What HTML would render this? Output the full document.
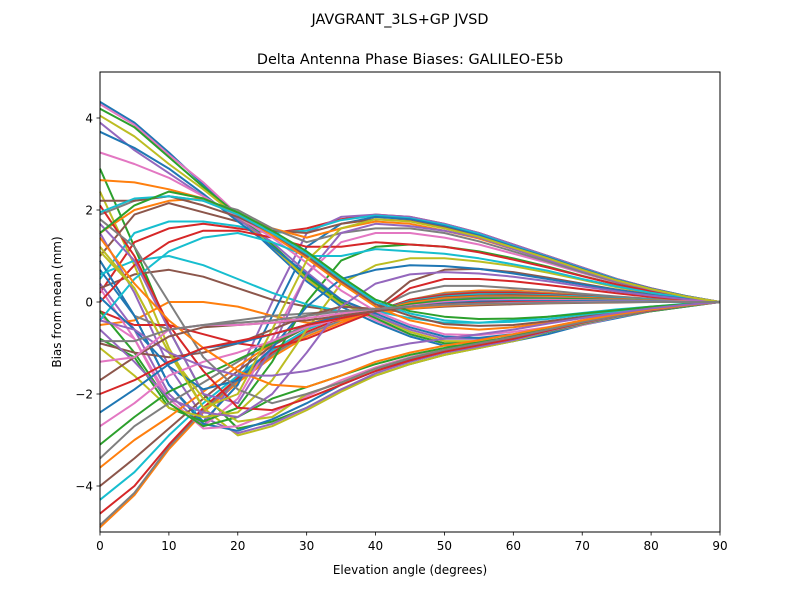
<!DOCTYPE html>
<html><head><meta charset="utf-8"><style>
body{margin:0;background:#fff;}
svg text{font-family:"DejaVu Sans","Liberation Sans",sans-serif;fill:#000;}
</style></head><body>
<svg id="chart" width="800" height="600" xmlns="http://www.w3.org/2000/svg">
<rect width="800" height="600" fill="#fff"/>
<text x="400" y="24" font-size="14.4" text-anchor="middle">JAVGRANT_3LS+GP JVSD</text>
<text x="410" y="64" font-size="14.4" text-anchor="middle">Delta Antenna Phase Biases: GALILEO-E5b</text>
<g id="lines"></g>
<g id="axes"></g>
<text x="410" y="574" font-size="12" text-anchor="middle">Elevation angle (degrees)</text>
<text x="0" y="0" font-size="12" text-anchor="middle" transform="translate(61,302) rotate(-90)">Bias from mean (mm)</text>
</svg>
<script>
const elevations=[0,5,10,15,20,25,30,35,40,45,50,55,60,65,70,75,80,85,90];
const xTicks=[0,10,20,30,40,50,60,70,80,90];
const yTicks=[-4,-2,0,2,4];
const colors=["#1f77b4","#ff7f0e","#2ca02c","#d62728","#9467bd","#8c564b","#e377c2","#7f7f7f","#bcbd22","#17becf"];
const highStart=[
[4.35,3.9,3.25,2.55,1.85,1.15,0.45,-0.1,-0.45,-0.75,-0.95,-0.95,-0.85,-0.7,-0.5,-0.35,-0.2,-0.1,0],
[4.3,3.85,3.2,2.6,1.9,1.2,0.5,0,-0.4,-0.7,-0.9,-0.9,-0.8,-0.65,-0.5,-0.33,-0.2,-0.1,0],
[4.2,3.8,3.15,2.5,1.9,1.25,0.55,0,-0.35,-0.7,-0.9,-0.88,-0.8,-0.65,-0.48,-0.32,-0.2,-0.1,0],
[4.05,3.6,3.0,2.45,1.85,1.2,0.5,-0.05,-0.3,-0.65,-0.85,-0.85,-0.78,-0.62,-0.46,-0.3,-0.18,-0.08,0],
[3.9,3.3,2.8,2.3,1.8,1.3,0.65,0.05,-0.3,-0.6,-0.8,-0.8,-0.72,-0.6,-0.45,-0.3,-0.18,-0.08,0],
[3.7,3.35,2.9,2.35,1.75,1.2,0.6,0.05,-0.25,-0.55,-0.75,-0.78,-0.7,-0.58,-0.42,-0.28,-0.16,-0.08,0],
[3.25,3.0,2.7,2.3,1.85,1.4,0.85,0.25,-0.2,-0.5,-0.7,-0.72,-0.65,-0.55,-0.4,-0.27,-0.15,-0.07,0],
[2.65,2.6,2.45,2.25,1.9,1.45,0.95,0.4,-0.1,-0.4,-0.55,-0.6,-0.55,-0.45,-0.35,-0.24,-0.14,-0.06,0],
[2.2,2.2,2.3,2.1,1.85,1.5,1.0,0.45,-0.05,-0.3,-0.48,-0.52,-0.5,-0.42,-0.32,-0.22,-0.13,-0.06,0],
[1.95,2.25,2.3,2.2,1.9,1.5,1.05,0.5,0,-0.25,-0.4,-0.45,-0.43,-0.37,-0.28,-0.2,-0.12,-0.05,0],
[1.5,2.1,2.4,2.25,1.95,1.55,1.1,0.55,0.05,-0.2,-0.32,-0.37,-0.36,-0.32,-0.25,-0.18,-0.1,-0.05,0]
];
const dipNeg=[
[2.9,1.2,-0.6,-2.0,-2.75,-2.6,-2.3,-1.9,-1.6,-1.35,-1.15,-1.0,-0.85,-0.65,-0.48,-0.32,-0.2,-0.09,0],
[2.4,0.8,-1.0,-2.3,-2.9,-2.7,-2.35,-1.95,-1.6,-1.35,-1.15,-1.0,-0.85,-0.65,-0.48,-0.32,-0.2,-0.09,0],
[1.5,0.2,-1.4,-2.5,-2.85,-2.65,-2.3,-1.9,-1.55,-1.3,-1.1,-0.97,-0.83,-0.64,-0.47,-0.31,-0.19,-0.08,0],
[0.9,-0.3,-1.8,-2.65,-2.8,-2.55,-2.2,-1.8,-1.5,-1.25,-1.07,-0.94,-0.8,-0.62,-0.45,-0.3,-0.18,-0.08,0],
[0.3,-0.8,-2.1,-2.75,-2.7,-2.4,-2.05,-1.7,-1.42,-1.2,-1.03,-0.9,-0.77,-0.6,-0.44,-0.3,-0.18,-0.08,0],
[-0.2,-1.1,-2.2,-2.7,-2.5,-2.1,-1.85,-1.6,-1.35,-1.15,-1.0,-0.88,-0.75,-0.58,-0.43,-0.29,-0.17,-0.08,0],
[1.2,0.3,-1.1,-2.1,-2.6,-2.5,-2.0,-1.75,-1.45,-1.22,-1.04,-0.91,-0.78,-0.6,-0.44,-0.3,-0.17,-0.08,0],
[2.1,1.0,-0.5,-1.5,-2.3,-2.35,-2.1,-1.8,-1.5,-1.27,-1.08,-0.94,-0.8,-0.62,-0.45,-0.3,-0.18,-0.08,0],
[1.8,1.2,0.0,-1.2,-1.9,-2.2,-2.0,-1.75,-1.45,-1.22,-1.04,-0.9,-0.76,-0.6,-0.44,-0.3,-0.17,-0.08,0],
[1.4,0.4,-0.4,-1.0,-1.5,-1.8,-1.85,-1.6,-1.3,-1.1,-0.95,-0.83,-0.7,-0.55,-0.4,-0.27,-0.16,-0.07,0],
[-0.4,-0.6,-1.1,-1.4,-1.6,-1.6,-1.5,-1.3,-1.05,-0.9,-0.8,-0.7,-0.6,-0.47,-0.35,-0.24,-0.14,-0.06,0]
];
const lowStart=[
[-4.9,-4.2,-3.2,-2.4,-1.75,-1.2,-0.75,-0.45,-0.2,0.05,0.2,0.25,0.25,0.2,0.15,0.1,0.06,0.03,0],
[-4.85,-4.15,-3.15,-2.35,-1.7,-1.15,-0.7,-0.4,-0.2,0.05,0.18,0.22,0.22,0.18,0.14,0.1,0.06,0.03,0],
[-4.6,-4.0,-3.1,-2.3,-1.65,-1.1,-0.65,-0.35,-0.2,0.05,0.15,0.2,0.2,0.17,0.13,0.09,0.05,0.02,0],
[-4.3,-3.7,-2.9,-2.2,-1.6,-1.05,-0.6,-0.3,-0.2,0.02,0.12,0.17,0.17,0.15,0.12,0.08,0.05,0.02,0],
[-4.0,-3.4,-2.75,-2.1,-1.5,-0.95,-0.55,-0.3,-0.2,0,0.1,0.14,0.15,0.13,0.1,0.07,0.04,0.02,0],
[-3.6,-3.0,-2.5,-1.95,-1.4,-0.9,-0.5,-0.25,-0.2,-0.02,0.08,0.12,0.12,0.11,0.09,0.06,0.04,0.02,0],
[-3.4,-2.7,-2.2,-1.75,-1.3,-0.85,-0.5,-0.3,-0.2,-0.05,0.05,0.1,0.1,0.09,0.07,0.05,0.03,0.01,0],
[-3.1,-2.5,-1.95,-1.6,-1.25,-0.9,-0.55,-0.3,-0.2,-0.05,0.03,0.07,0.08,0.07,0.06,0.04,0.02,0.01,0],
[-2.7,-2.2,-1.6,-1.3,-1.1,-0.85,-0.55,-0.35,-0.2,-0.08,0,0.04,0.05,0.05,0.04,0.03,0.02,0.01,0],
[-2.4,-1.9,-1.35,-1.0,-0.9,-0.7,-0.5,-0.3,-0.2,-0.1,-0.03,0.01,0.02,0.02,0.02,0.01,0.01,0,0],
[-2.0,-1.7,-1.3,-1.0,-0.85,-0.7,-0.5,-0.35,-0.2,-0.1,-0.05,-0.02,0,0,0,0,0,0,0],
[-1.7,-1.2,-0.75,-0.55,-0.5,-0.45,-0.4,-0.3,-0.2,-0.1,-0.05,-0.03,-0.02,-0.01,0,0,0,0,0],
[-1.3,-1.2,-0.6,-0.5,-0.5,-0.45,-0.35,-0.25,-0.15,-0.1,-0.06,-0.04,-0.02,-0.01,0,0,0,0,0],
[-0.85,-0.85,-0.6,-0.5,-0.45,-0.4,-0.3,-0.2,-0.15,-0.1,-0.06,-0.04,-0.03,-0.02,-0.01,0,0,0,0]
];
const bumpPos=[
[0.2,1.3,1.6,1.7,1.6,1.5,1.6,1.8,1.9,1.85,1.7,1.5,1.25,1.0,0.75,0.5,0.3,0.13,0],
[0.5,1.5,1.75,1.75,1.65,1.5,1.55,1.78,1.88,1.82,1.68,1.48,1.22,0.98,0.73,0.49,0.29,0.13,0],
[1.0,1.9,2.15,1.95,1.75,1.55,1.5,1.7,1.8,1.76,1.62,1.42,1.18,0.95,0.7,0.47,0.28,0.12,0],
[1.5,2.0,2.2,2.25,1.9,1.6,1.4,1.6,1.75,1.7,1.55,1.38,1.15,0.92,0.68,0.45,0.27,0.12,0],
[1.9,2.2,2.3,2.2,2.0,1.6,1.3,1.5,1.6,1.6,1.5,1.32,1.1,0.88,0.65,0.43,0.26,0.11,0],
[0.0,0.8,1.3,1.55,1.55,1.4,1.2,1.2,1.3,1.25,1.2,1.08,0.92,0.75,0.56,0.38,0.23,0.1,0],
[-0.4,0.5,1.1,1.4,1.5,1.3,1.0,1.0,1.15,1.1,1.05,0.95,0.82,0.68,0.5,0.34,0.2,0.09,0]
];
const dipRise=[
[0.4,-0.6,-2.0,-2.7,-1.6,0.0,1.5,1.85,1.9,1.85,1.7,1.5,1.25,1.0,0.75,0.5,0.3,0.13,0],
[0.7,-0.3,-1.8,-2.6,-1.8,-0.3,1.2,1.7,1.85,1.8,1.65,1.45,1.2,0.97,0.72,0.48,0.29,0.13,0],
[-0.3,-0.8,-2.2,-2.7,-2.1,-0.8,0.6,1.3,1.5,1.5,1.4,1.25,1.05,0.85,0.63,0.42,0.25,0.11,0],
[-0.8,-1.2,-2.3,-2.6,-2.3,-1.3,0.0,0.9,1.2,1.25,1.2,1.1,0.95,0.77,0.57,0.38,0.23,0.1,0],
[-1.0,-1.6,-2.3,-2.5,-2.4,-1.7,-0.6,0.4,0.8,0.95,0.95,0.88,0.78,0.64,0.48,0.32,0.19,0.08,0],
[1.7,0.9,-0.6,-2.0,-2.2,-1.0,0.6,1.5,1.7,1.65,1.55,1.4,1.15,0.92,0.68,0.45,0.27,0.12,0],
[0.1,-0.6,-1.4,-1.9,-1.7,-1.0,-0.1,0.5,0.7,0.8,0.78,0.72,0.62,0.5,0.38,0.26,0.15,0.07,0],
[-0.6,-1.3,-2.1,-2.4,-2.5,-2.0,-1.1,-0.1,0.4,0.6,0.65,0.62,0.55,0.45,0.34,0.23,0.14,0.06,0],
[1.1,0.3,-1.1,-2.3,-2.0,-0.6,0.9,1.6,1.8,1.75,1.6,1.42,1.18,0.95,0.7,0.47,0.28,0.12,0]
];
const mild=[
[0.3,0.6,0.7,0.55,0.3,0.05,-0.1,-0.2,-0.2,-0.15,-0.1,-0.07,-0.05,-0.03,-0.02,-0.01,0,0,0],
[-0.5,-0.4,0.0,0.0,-0.1,-0.3,-0.45,-0.4,-0.25,-0.15,-0.08,-0.05,-0.03,-0.02,-0.01,0,0,0,0],
[0.9,-0.3,-0.6,-0.5,-0.4,-0.3,-0.25,-0.2,-0.15,0.2,0.35,0.35,0.3,0.25,0.18,0.12,0.07,0.03,0],
[-0.2,-0.5,-0.5,-0.7,-0.9,-1.0,-0.8,-0.5,-0.2,0.3,0.5,0.5,0.45,0.37,0.28,0.19,0.11,0.05,0],
[0.6,0.9,1.0,0.8,0.5,0.2,-0.05,-0.2,-0.2,-0.35,-0.45,-0.45,-0.4,-0.32,-0.24,-0.16,-0.1,-0.04,0],
[-0.9,-1.1,-1.2,-1.1,-0.9,-0.6,-0.3,-0.1,-0.15,0.45,0.7,0.72,0.65,0.53,0.4,0.27,0.16,0.07,0]
];
const allSeries=[];
const groups=[highStart,lowStart,dipNeg,bumpPos,dipRise,mild];
let maxLen=Math.max(...groups.map(g=>g.length));
for(let i=0;i<maxLen;i++){for(const g of groups){if(i<g.length)allSeries.push(g[i]);}}
const X0=100,X1=720,Y0=72,Y1=532;
function xs(v){return X0+(v-0)/(90-0)*(X1-X0);}
function ys(v){return Y1-(v-(-5))/(10)*(Y1-Y0);}
const NS="http://www.w3.org/2000/svg";
const lg=document.getElementById('lines');
allSeries.forEach((s,i)=>{
  const p=document.createElementNS(NS,'polyline');
  p.setAttribute('points',s.map((v,j)=>xs(elevations[j]).toFixed(1)+','+ys(v).toFixed(1)).join(' '));
  p.setAttribute('fill','none');
  p.setAttribute('stroke',colors[i%10]);
  p.setAttribute('stroke-width','2');
  p.setAttribute('stroke-linejoin','round');
  
  
  lg.appendChild(p);
});
const ax=document.getElementById('axes');
const fr=document.createElementNS(NS,'rect');
fr.setAttribute('x',X0);fr.setAttribute('y',Y0);fr.setAttribute('width',X1-X0);fr.setAttribute('height',Y1-Y0);
fr.setAttribute('fill','none');fr.setAttribute('stroke','#000');fr.setAttribute('stroke-width','1');


ax.appendChild(fr);
xTicks.forEach(t=>{
  const l=document.createElementNS(NS,'line');
  l.setAttribute('x1',xs(t));l.setAttribute('x2',xs(t));l.setAttribute('y1',Y1);l.setAttribute('y2',Y1+3.5);
  l.setAttribute('stroke','#000');l.setAttribute('stroke-width','0.8');
  
  
  ax.appendChild(l);
  const tx=document.createElementNS(NS,'text');
  tx.setAttribute('x',xs(t));tx.setAttribute('y',Y1+18);tx.setAttribute('font-size','12');tx.setAttribute('text-anchor','middle');
  tx.textContent=t;
  
  
  ax.appendChild(tx);
});
yTicks.forEach(t=>{
  const l=document.createElementNS(NS,'line');
  l.setAttribute('x1',X0-3.5);l.setAttribute('x2',X0);l.setAttribute('y1',ys(t));l.setAttribute('y2',ys(t));
  l.setAttribute('stroke','#000');l.setAttribute('stroke-width','0.8');
  
  
  ax.appendChild(l);
  const tx=document.createElementNS(NS,'text');
  tx.setAttribute('x',X0-7);tx.setAttribute('y',ys(t)+4.5);tx.setAttribute('font-size','12');tx.setAttribute('text-anchor','end');
  tx.textContent=(t<0?'\u2212'+(-t):String(t));
  
  
  ax.appendChild(tx);
});
</script>
</body></html>
